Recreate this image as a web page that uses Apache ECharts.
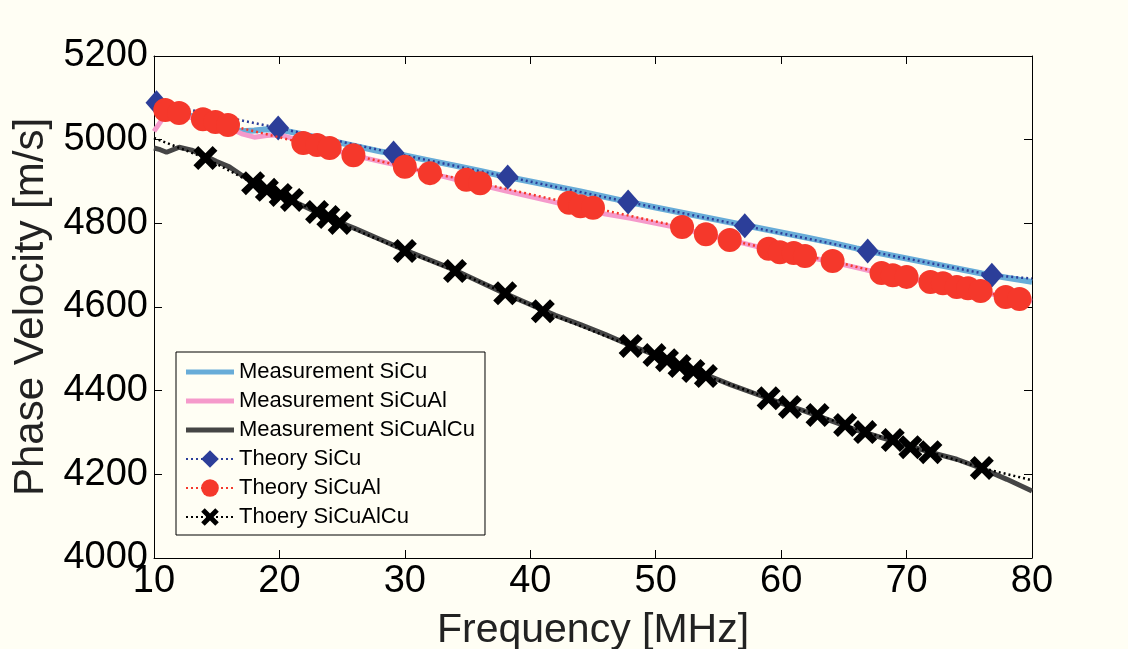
<!DOCTYPE html>
<html><head><meta charset="utf-8">
<script src="https://cdn.jsdelivr.net/npm/echarts@6/dist/echarts.min.js"></script>
<style>html,body{margin:0;padding:0;background:#fffef4;}#c{width:1128px;height:649px;}</style>
</head><body><div id="c"></div>
<script>
// ---- data ----
const xTicks = [10, 20, 30, 40, 50, 60, 70, 80];
const yTicks = [4000, 4200, 4400, 4600, 4800, 5000, 5200];

const measFreq = [10,10.5,11,12,13,14,15,16,17,18,19,20,22,24,26,28,30,32,34,36,38,40,42,44,46,48,50,52,54,56,58,60,62,64,66,68,70,72,74,76,78,80];
const measSiCu = [5085,5080,5072,5064,5056,5048,5040,5028,5020,5022,5025,5024,5012,4998,4985,4972,4962,4950,4938,4925,4912,4900,4888,4876,4863,4850,4838,4826,4814,4802,4790,4778,4766,4754,4740,4728,4716,4704,4692,4680,4670,4660];
const measSiCuAl = [5020,5042,5066,5060,5052,5044,5036,5028,5014,5006,5010,5012,4994,4978,4962,4948,4935,4920,4905,4892,4878,4864,4850,4836,4822,4812,4800,4788,4774,4760,4745,4732,4720,4708,4694,4680,4670,4658,4648,4636,4624,4614];
const measSiCuAlCu = [4980,4976,4970,4982,4975,4962,4948,4935,4915,4898,4882,4868,4840,4812,4788,4762,4736,4712,4688,4660,4632,4606,4580,4558,4534,4508,4485,4460,4438,4414,4392,4370,4350,4328,4306,4288,4270,4252,4236,4214,4188,4160];

const thSiCuFreq = [10.2,19.9,29.1,38.2,47.8,57.1,66.9,76.8];
const thSiCuVal  = [5088,5028,4968,4911,4851,4794,4734,4676];
const thSiCuEnds = [5090, 4668];   // theory line value at 10 and 80 MHz

const thSiCuAlFreq = [10.9,12.0,13.9,14.9,15.9,21.9,23.0,24.0,25.9,30.0,32.0,34.9,36.0,43.1,44.0,45.0,52.1,54.0,55.9,59.0,59.9,61.0,61.9,64.1,68.0,68.9,70.0,71.9,72.9,74.0,74.9,75.9,77.9,79.0];
const thSiCuAlVal  = [5071,5064,5049,5042,5035,4992,4987,4980,4963,4935,4920,4904,4896,4849,4841,4837,4791,4774,4760,4739,4731,4729,4722,4710,4681,4676,4672,4660,4657,4648,4645,4638,4624,4619];
const thSiCuAlEnds = [5078, 4614];

const thSiCuAlCuFreq = [14.1,17.9,19.0,20.1,21.0,23.0,23.9,24.8,30.0,34.0,38.0,41.0,48.0,49.9,50.9,51.9,53.0,54.0,59.0,60.7,62.9,65.1,66.7,68.9,70.3,71.9,76.0];
const thSiCuAlCuVal  = [4956,4896,4880,4868,4856,4827,4815,4801,4734,4686,4633,4590,4507,4485,4473,4459,4447,4435,4382,4361,4342,4318,4301,4282,4265,4253,4215];
const thSiCuAlCuEnds = [5004, 4186];

const names = ['Measurement SiCu','Measurement SiCuAl','Measurement SiCuAlCu','Theory SiCu','Theory SiCuAl','Thoery SiCuAlCu'];

// ---- build ----
const pair = (xs, ys) => xs.map((x, i) => [x, ys[i]]);
const theory = (xs, ys, ends) => [{value:[10, ends[0]], symbol:'none'}]
  .concat(pair(xs, ys).map(p => ({value:p})))
  .concat([{value:[80, ends[1]], symbol:'none'}]);

const crossPath = 'path://M0,4 L4,0 L10,6 L16,0 L20,4 L14,10 L20,16 L16,20 L10,14 L4,20 L0,16 L6,10 Z';
const barIcon = 'path://M0,0 L48,0 L48,5 L0,5 Z';
const font = 'Liberation Sans, Arial, Helvetica, sans-serif';

const chart = echarts.init(document.getElementById('c'));
const axisBase = {
  axisLine:{show:true, onZero:false, lineStyle:{color:'#000', width:1}},
  axisTick:{show:true, inside:true, length:8, lineStyle:{color:'#000'}},
  splitLine:{show:false}
};
chart.setOption({
  backgroundColor:'#fffef4',
  animation:false,
  grid:{left:154, top:56, right:96, bottom:91, containLabel:false, outerBoundsMode:'none'},
  legend:{
    orient:'vertical', left:176, top:352,
    padding:[9,10,7,9],
    itemWidth:48, itemHeight:22, itemGap:7,
    backgroundColor:'#fffef4', borderColor:'#000', borderWidth:1,
    textStyle:{fontFamily:font, fontSize:22, color:'#000'},
    data:[
      {name:names[0], icon:barIcon},
      {name:names[1], icon:barIcon},
      {name:names[2], icon:barIcon},
      names[3], names[4], names[5]
    ]
  },
  xAxis:[
    Object.assign({type:'value', min:10, max:80, interval:10, position:'bottom',
      name:'Frequency [MHz]', nameLocation:'middle', nameGap:52,
      nameTextStyle:{fontFamily:font, fontSize:41, color:'#222'},
      axisLabel:{fontFamily:font, fontSize:38, color:'#000', margin:5,
        formatter:v => xTicks.includes(v) ? String(v) : ''}}, axisBase),
    Object.assign({type:'value', min:10, max:80, interval:10, position:'top',
      axisLabel:{show:false}}, axisBase)
  ],
  yAxis:[
    Object.assign({type:'value', min:4000, max:5200, interval:200, position:'left',
      name:'Phase Velocity [m/s]', nameLocation:'middle', nameGap:98,
      nameTextStyle:{fontFamily:font, fontSize:42, color:'#222'},
      axisLabel:{fontFamily:font, fontSize:38, color:'#000', margin:6,
        formatter:v => yTicks.includes(v) ? String(v) : ''}}, axisBase),
    Object.assign({type:'value', min:4000, max:5200, interval:200, position:'right',
      axisLabel:{show:false}}, axisBase)
  ],
  series:[
    {name:names[0], type:'line', data:pair(measFreq, measSiCu), symbol:'none',
      lineStyle:{color:'#68acd8', width:6}, itemStyle:{color:'#68acd8'}, z:2},
    {name:names[1], type:'line', data:pair(measFreq, measSiCuAl), symbol:'none',
      lineStyle:{color:'#f59acb', width:5}, itemStyle:{color:'#f59acb'}, z:2},
    {name:names[2], type:'line', data:pair(measFreq, measSiCuAlCu), symbol:'none',
      lineStyle:{color:'#454545', width:5}, itemStyle:{color:'#454545'}, z:2},
    {name:names[3], type:'line', data:theory(thSiCuFreq, thSiCuVal, thSiCuEnds),
      symbol:'diamond', symbolSize:[22,25], showAllSymbol:true,
      lineStyle:{color:'#2c3e99', width:2.5, type:[2,3]}, itemStyle:{color:'#2c3e99'}, z:3},
    {name:names[4], type:'line', data:theory(thSiCuAlFreq, thSiCuAlVal, thSiCuAlEnds),
      symbol:'circle', symbolSize:24, showAllSymbol:true,
      lineStyle:{color:'#f5382b', width:2.5, type:[2,3]}, itemStyle:{color:'#f5382b'}, z:4},
    {name:names[5], type:'line', data:theory(thSiCuAlCuFreq, thSiCuAlCuVal, thSiCuAlCuEnds),
      symbol:crossPath, symbolSize:24, showAllSymbol:true,
      lineStyle:{color:'#000', width:2.5, type:[2,3]}, itemStyle:{color:'#000'}, z:5}
  ]
});
</script></body></html>
